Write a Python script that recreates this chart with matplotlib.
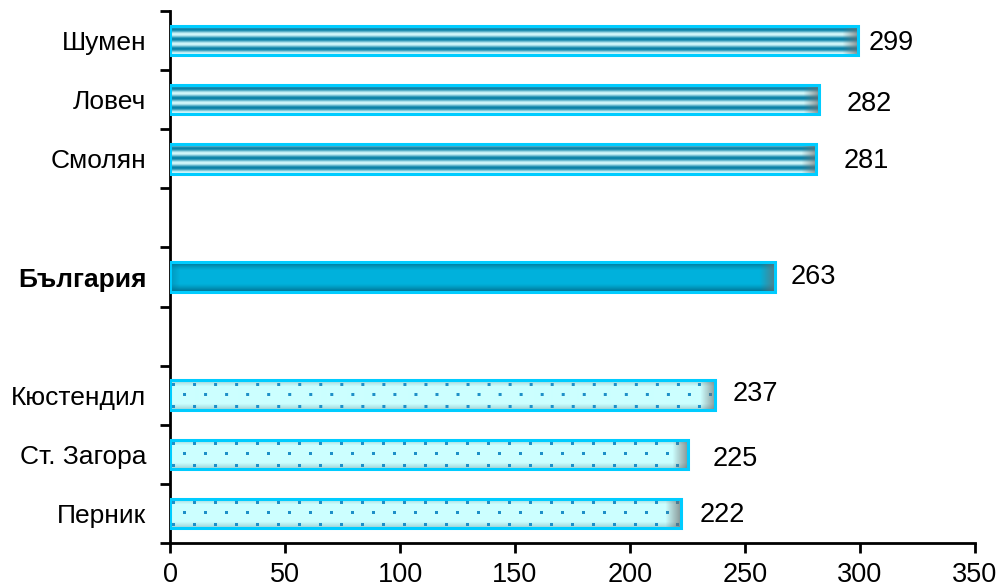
import matplotlib
matplotlib.use("Agg")
import matplotlib.pyplot as plt
import numpy as np
from matplotlib.colors import to_rgb

# data, bottom to top (None = empty slot)
regions = ["Перник", "Ст. Загора", "Кюстендил", "", "България", "", "Смолян", "Ловеч", "Шумен"]
values = [222, 225, 237, None, 263, None, 281, 282, 299]
styles = ["dots", "dots", "dots", None, "solid", None, "stripes", "stripes", "stripes"]
# hand-placed value labels in the original: shift in pixels (right, down)
label_dx = [19, 25, 18, 0, 16, 0, 27, 28, 11]
label_dy = [2, 5, -1, 0, 0, 0, 2, 4, 2]

plt.rcParams['font.family'] = ['Liberation Sans', 'DejaVu Sans']

fig = plt.figure(figsize=(10.02, 5.87), dpi=100)
ax = fig.add_axes([170 / 1002, 44 / 587, 805 / 1002, 532 / 587])

xmax = 350
px_per_x = 805 / xmax
px_per_y = 532 / len(regions)

edge = "#00CCFF"
bar_h = 0.5


def mix(c1, c2, t):
    c1 = np.array(to_rgb(c1))
    c2 = np.array(to_rgb(c2))
    t = np.asarray(t)[..., None]
    return c1 * (1 - t) + c2 * t


def texture(style, wpx, hpx):
    rows = np.linspace(0, 1, hpx)
    cols = np.arange(wpx)
    if style == "stripes":
        v = 0.5 + 0.5 * np.cos(2 * np.pi * 3 * rows + 0.6)
        prof = mix("#0A82A8", "#D2F7FA", v)
        img = np.repeat(prof[:, None, :], wpx, axis=1)
    elif style == "solid":
        d = np.abs(rows - 0.5) * 2
        prof = mix("#00B2DC", "#00708F", np.clip((d - 0.45) / 0.55, 0, 1) ** 1.3)
        img = np.repeat(prof[:, None, :], wpx, axis=1)
        left = np.clip(1 - cols / 10, 0, 1) * 0.4
        img = img * (1 - left[None, :, None]) + np.array(to_rgb("#00708F")) * left[None, :, None]
    else:
        d = np.abs(rows - 0.5) * 2
        prof = mix("#CCFFFF", "#A0D4D8", np.clip((d - 0.6) / 0.4, 0, 1))
        img = np.repeat(prof[:, None, :], wpx, axis=1)
        dot = np.array(to_rgb("#1E8FC8"))
        for k, ry in enumerate([0.14, 0.5, 0.9]):
            r = int(round(ry * (hpx - 1)))
            off = 0 if k != 1 else 11
            for cx in range(2 + off, wpx - 3, 21):
                img[max(r - 1, 0):r + 2, cx:cx + 3] = dot
    # darker end on the right
    ramp = np.clip((cols - (wpx - 16)) / 16, 0, 1) * 0.75
    img = img * (1 - ramp[None, :, None]) + np.array(to_rgb("#6E6E6E")) * ramp[None, :, None]
    return np.clip(img, 0, 1)


for y, (v, st) in enumerate(zip(values, styles)):
    if v is None:
        continue
    wpx = int(round(v * px_per_x))
    hpx = int(round(bar_h * px_per_y))
    ax.imshow(texture(st, wpx, hpx), extent=(0, v, y - bar_h / 2, y + bar_h / 2),
              aspect="auto", interpolation="bilinear", zorder=2)
    ax.barh(y, v, height=bar_h, facecolor="none", edgecolor=edge, linewidth=2.2, zorder=3)
    ax.text(v + label_dx[y] / px_per_x, y - label_dy[y] / px_per_y, str(v),
            va="center", ha="left", fontsize=19.5, zorder=4)

ax.set_xlim(0, xmax)
ax.set_ylim(-0.5, len(regions) - 0.5)

ax.set_xticks(np.arange(0, 351, 50))
ax.tick_params(axis="x", labelsize=19.5, length=7, width=2, direction="out", pad=7)

ax.set_yticks(np.arange(-0.5, len(regions), 1))
ax.set_yticklabels([])
ax.tick_params(axis="y", which="major", length=7, width=2, direction="out")
ax.set_yticks(np.arange(len(regions)), minor=True)
ax.set_yticklabels(regions, minor=True)
ax.tick_params(axis="y", which="minor", length=0, labelsize=19, pad=17)
for lab in ax.get_yticklabels(minor=True):
    if lab.get_text() == "България":
        lab.set_fontweight("bold")

for s in ["top", "right"]:
    ax.spines[s].set_visible(False)
for s in ["left", "bottom"]:
    ax.spines[s].set_linewidth(2)

fig.savefig("out.png", dpi=100)
